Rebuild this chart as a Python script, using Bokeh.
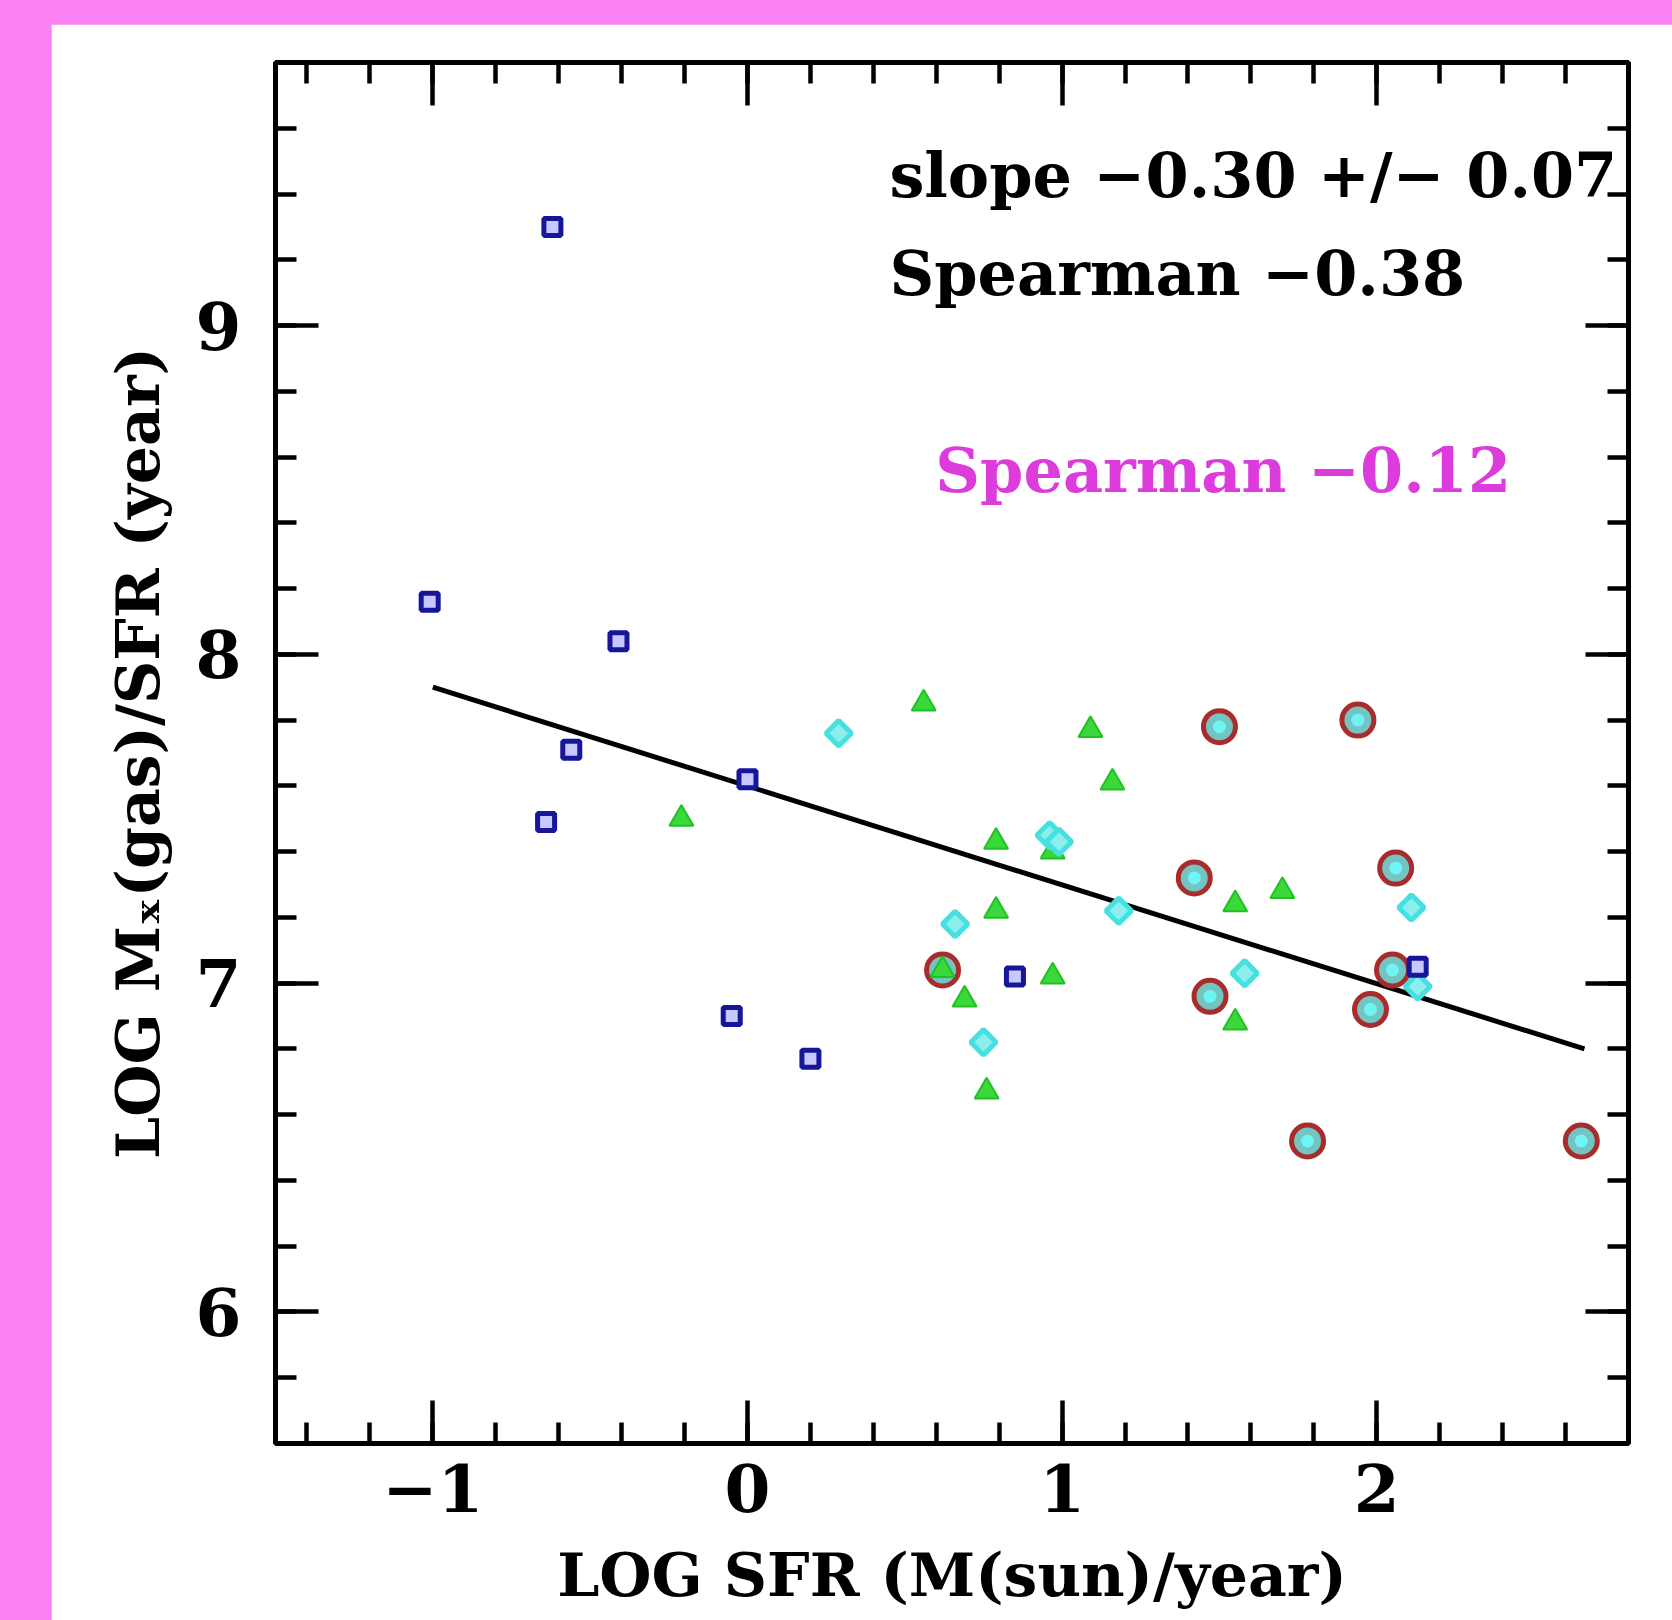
from bokeh.plotting import figure
from bokeh.models import Range1d, LinearAxis, Label, SingleIntervalTicker, CustomJSTickFormatter
from bokeh.layouts import column
from bokeh.embed import file_html
from bokeh.resources import INLINE
import math

# ---- data ----
sq_x = [-0.62, -1.01, -0.41, -0.56, -0.64, 0.00, -0.05, 0.20, 0.85, 2.13]
sq_y = [9.30, 8.16, 8.04, 7.71, 7.49, 7.62, 6.90, 6.77, 7.02, 7.05]

tri_x = [0.56, -0.21, 1.09, 1.16, 0.79, 0.97, 0.79, 1.55, 1.70, 0.97, 0.69, 1.55, 0.76, 0.62]
tri_y = [7.85, 7.50, 7.77, 7.61, 7.43, 7.40, 7.22, 7.24, 7.28, 7.02, 6.95, 6.88, 6.67, 7.04]

dia_x = [0.29, 0.96, 0.99, 1.18, 0.66, 0.75, 1.58, 2.11, 2.13]
dia_y = [7.76, 7.45, 7.43, 7.22, 7.18, 6.82, 7.03, 7.23, 6.99]

ring_x = [1.50, 1.94, 1.42, 2.06, 0.62, 1.47, 2.05, 1.98, 1.78, 2.65]
ring_y = [7.78, 7.80, 7.32, 7.35, 7.04, 6.96, 7.04, 6.92, 6.52, 6.52]

fit_x = [-1.00, 2.66]
fit_y = [7.90, 6.80]

x_label = "LOG SFR (M(sun)/year)"
y_label = "LOG M\u2093(gas)/SFR (year)"
txt_slope = "slope \u22120.30 +/\u2212 0.07"
txt_sp_all = "Spearman \u22120.38"
txt_sp_sub = "Spearman \u22120.12"

FONT = "DejaVu Serif"
FS = "62px"
FS_TICK = "66px"
FS_AXIS = "60px"
PINK = "#fa82f5"

p = figure(width=1621, height=1596,
           x_range=Range1d(-1.5, 2.8), y_range=Range1d(5.6, 9.8),
           output_backend="svg", toolbar_location=None,
           min_border_left=224, min_border_right=44,
           min_border_top=38, min_border_bottom=177,
           background_fill_color="white", border_fill_color="white")
p.xgrid.grid_line_color = None
p.ygrid.grid_line_color = None
p.outline_line_color = "black"
p.outline_line_width = 5

blank = CustomJSTickFormatter(code="return ''")

def style_axis(ax, labels=True):
    ax.ticker = SingleIntervalTicker(interval=1, num_minor_ticks=5)
    ax.axis_line_color = "black"
    ax.axis_line_width = 5
    ax.major_tick_in = 43
    ax.major_tick_out = 0
    ax.minor_tick_in = 21
    ax.minor_tick_out = 0
    ax.major_tick_line_width = 4.5
    ax.minor_tick_line_width = 4.5
    ax.major_tick_line_color = "black"
    ax.minor_tick_line_color = "black"
    if labels:
        ax.major_label_text_font = FONT
        ax.major_label_text_font_style = "bold"
        ax.major_label_text_font_size = FS_TICK
        ax.major_label_text_color = "black"
        ax.axis_label_text_font = FONT
        ax.axis_label_text_font_style = "bold"
        ax.axis_label_text_font_size = FS_AXIS
        ax.axis_label_text_color = "black"
    else:
        ax.formatter = blank
        ax.major_label_text_font_size = "10px"

xa = p.xaxis[0]
ya = p.yaxis[0]
style_axis(xa)
style_axis(ya)
xa.axis_label = x_label
ya.axis_label = y_label
xa.major_label_standoff = 20
ya.major_label_standoff = 34
xa.axis_label_standoff = 25
ya.axis_label_standoff = 20

top = LinearAxis()
style_axis(top, labels=False)
right = LinearAxis()
style_axis(right, labels=False)
p.add_layout(top, "above")
p.add_layout(right, "right")

# fit line
p.line(fit_x, fit_y, line_color="black", line_width=5)

# circled subsample (red rings with cyan cores)
p.scatter(ring_x, ring_y, marker="circle", size=32, line_color="#a82c2c", line_width=5,
          fill_color="#74c4c4")
p.scatter(ring_x, ring_y, marker="circle", size=13, line_color=None, fill_color="#6ff4f4")

# green triangles
p.scatter(tri_x, tri_y, marker="triangle", size=24, line_color="#22c022", line_width=2,
          fill_color="#3ad83a")

# cyan diamonds
p.scatter(dia_x, dia_y, marker="square", angle=math.pi / 4, size=18, line_color="#45e0e0",
          line_width=5, fill_color="#8eeeee")

# blue open squares
p.scatter(sq_x, sq_y, marker="square", size=17, line_color="#16169a", line_width=5,
          fill_color="#c8c8ff")

for txt, x, y, col in [(txt_slope, 0.451, 9.457, "black"),
                       (txt_sp_all, 0.451, 9.157, "black"),
                       (txt_sp_sub, 0.597, 8.56, "#dc3cdc")]:
    p.add_layout(Label(x=x, y=y, text=txt, text_font=FONT, text_font_style="bold",
                       text_font_size=FS, text_color=col, text_baseline="alphabetic"))

layout = column(p, styles={"background-color": PINK, "padding-left": "51px",
                           "padding-top": "24px"})

open("out.html", "w").write(file_html(layout, INLINE))
